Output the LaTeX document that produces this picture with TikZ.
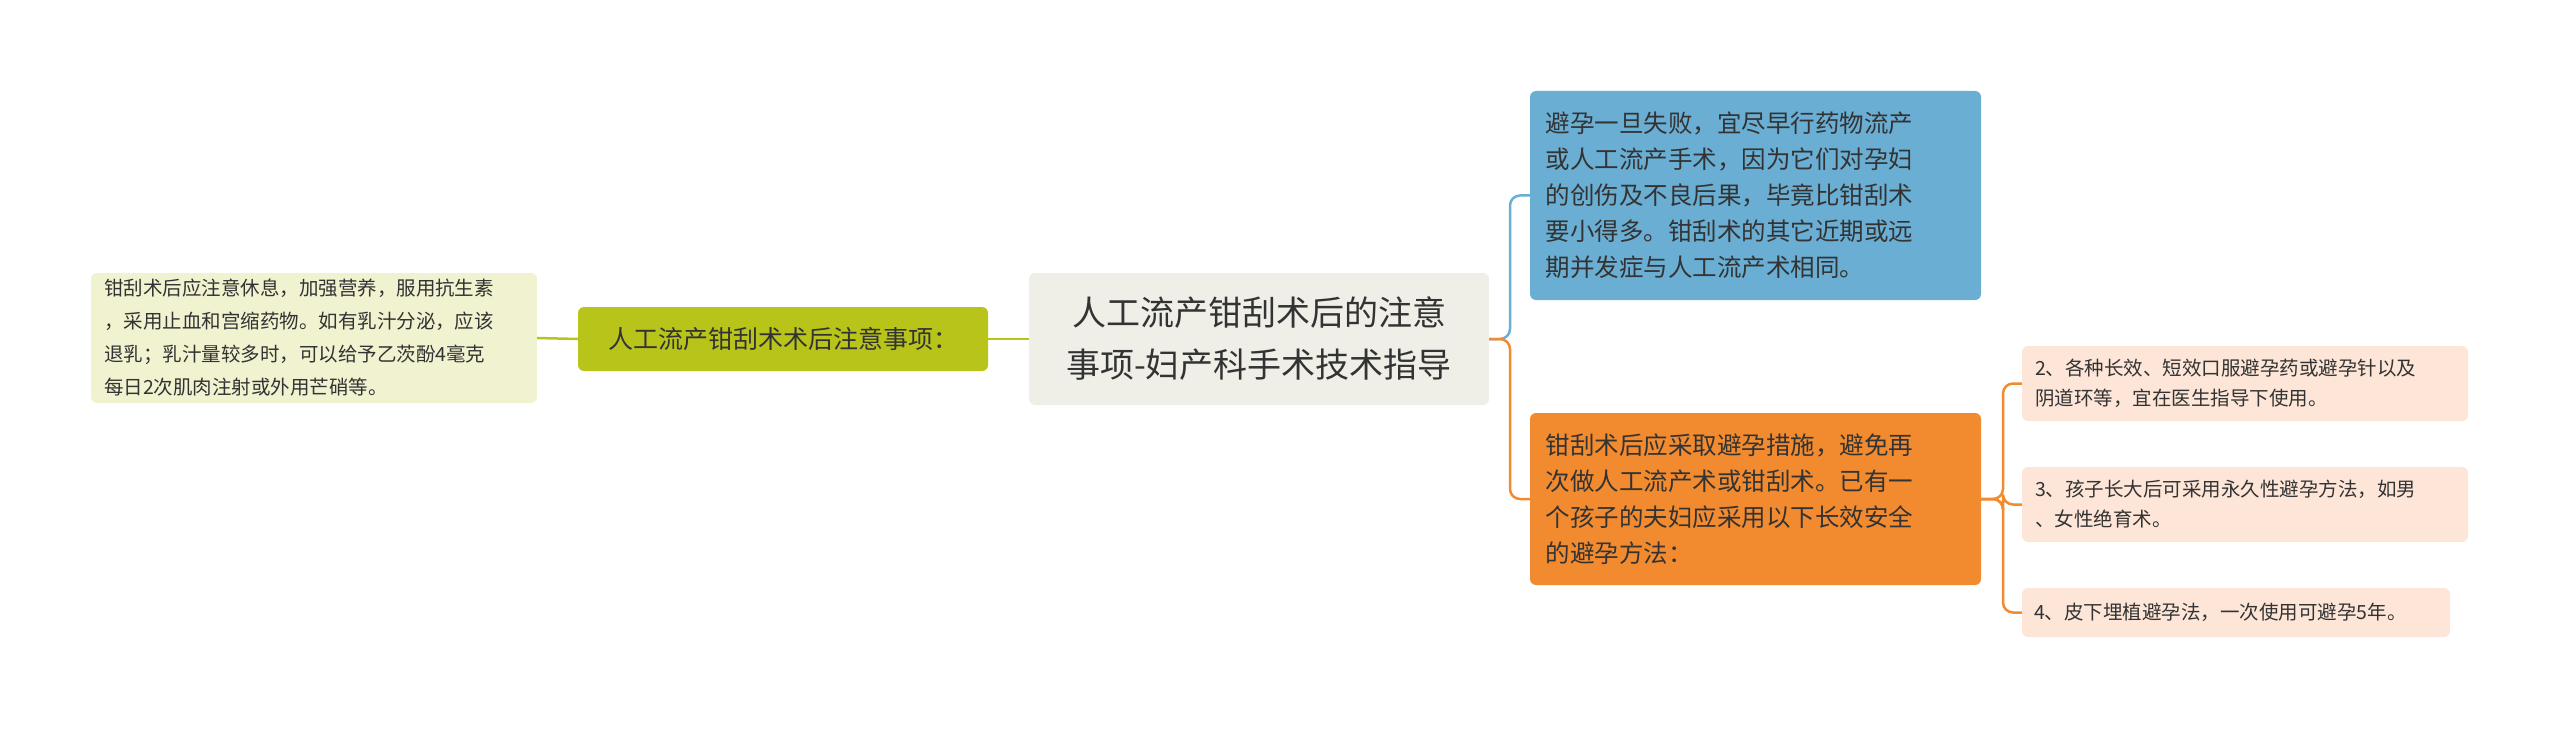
\documentclass[tikz,border=0pt]{standalone}
\usepackage{fontspec}
\setmainfont{Noto Sans CJK SC}
\begin{document}
\definecolor{ctr}{HTML}{EFEFE7}
\definecolor{olive}{HTML}{B8C41A}
\definecolor{leafg}{HTML}{F0F2D0}
\definecolor{blu}{HTML}{6AAED3}
\definecolor{org}{HTML}{F28B2F}
\definecolor{peach}{HTML}{FDE6D7}
\definecolor{txt}{HTML}{333333}
\begin{tikzpicture}[x=1pt,y=-1pt,
  box/.style={rounded corners=6pt,inner sep=0pt,text=txt,align=left},
  conn/.style={line width=2.5pt,rounded corners=10pt}]
\useasboundingbox (0,0) rectangle (2560,730);
% center
\node[box,fill=ctr,minimum width=460,minimum height=132,align=center,font=\fontsize{34}{52}\selectfont] (c) at (1259,339) {人工流产钳刮术后的注意\\事项-妇产科手术技术指导};
% left
\node[box,fill=olive,minimum width=410,minimum height=64,align=center,font=\fontsize{25}{32}\selectfont] (g) at (783,339) {人工流产钳刮术术后注意事项：};
\node[box,fill=leafg,minimum width=446,minimum height=130,font=\fontsize{19.5}{33}\selectfont,text width=420] (l) at (314,338) {钳刮术后应注意休息，加强营养，服用抗生素\\，采用止血和宫缩药物。如有乳汁分泌，应该\\退乳；乳汁量较多时，可以给予乙茨酚4毫克\\每日2次肌肉注射或外用芒硝等。};
% right
\node[box,fill=blu,minimum width=451,minimum height=209,font=\fontsize{24.5}{36}\selectfont,text width=420] (b) at (1755.5,195.5) {避孕一旦失败，宜尽早行药物流产\\或人工流产手术，因为它们对孕妇\\的创伤及不良后果，毕竟比钳刮术\\要小得多。钳刮术的其它近期或远\\期并发症与人工流产术相同。};
\node[box,fill=org,minimum width=451,minimum height=172,font=\fontsize{24.5}{36}\selectfont,text width=420] (o) at (1755.5,499) {钳刮术后应采取避孕措施，避免再\\次做人工流产术或钳刮术。已有一\\个孩子的夫妇应采用以下长效安全\\的避孕方法：};
\node[box,fill=peach,minimum width=446,minimum height=75,font=\fontsize{19.5}{30}\selectfont,text width=420] (p1) at (2245,383.5) {2、各种长效、短效口服避孕药或避孕针以及\\阴道环等，宜在医生指导下使用。};
\node[box,fill=peach,minimum width=446,minimum height=75,font=\fontsize{19.5}{30}\selectfont,text width=420] (p2) at (2245,504.5) {3、孩子长大后可采用永久性避孕方法，如男\\、女性绝育术。};
\node[box,fill=peach,minimum width=428,minimum height=49,font=\fontsize{19.5}{30}\selectfont,text width=404] (p3) at (2236,612.5) {4、皮下埋植避孕法，一次使用可避孕5年。};
% connectors
\draw[conn,olive] (c.west) -- (g.east);
\draw[conn,olive] (g.west) -- (l.east);
\draw[conn,blu] (c.east) -- (1510,339) |- (b.west);
\draw[conn,org] (c.east) -- (1510,339) |- (o.west);
\draw[conn,org] (o.east) -- (2003,499) |- (p1.west);
\draw[conn,org] (o.east) -- (2003,499) |- (p2.west);
\draw[conn,org] (o.east) -- (2003,499) |- (p3.west);
\end{tikzpicture}
\end{document}
